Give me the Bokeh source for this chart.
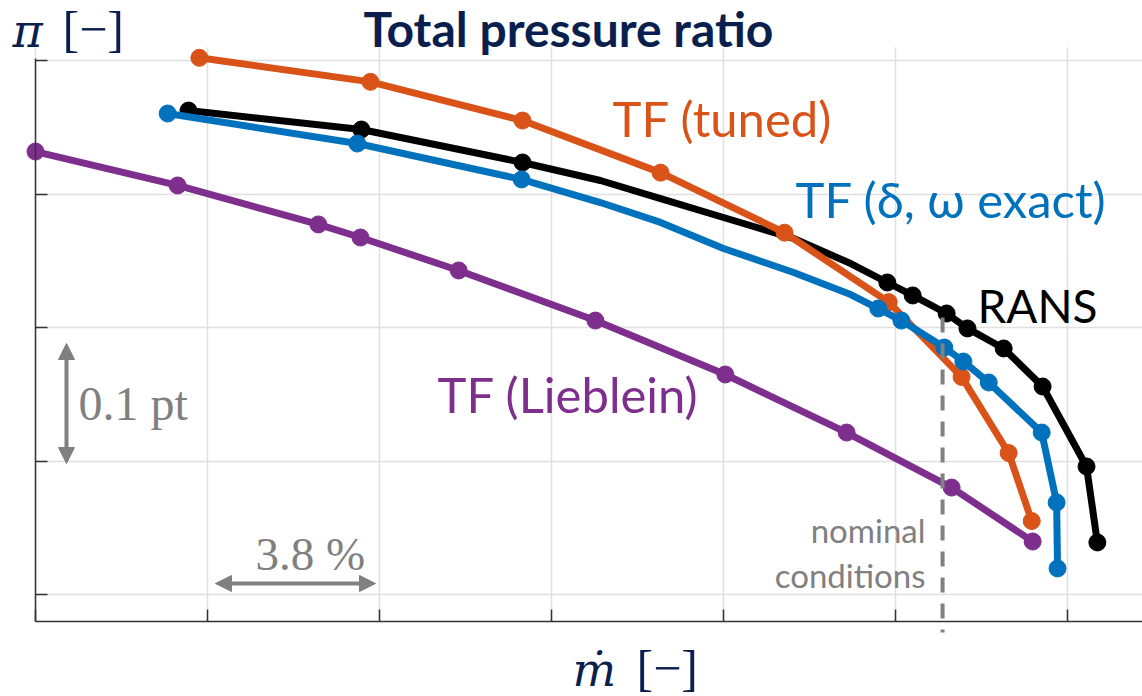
from bokeh.plotting import figure
from bokeh.models import Range1d, FixedTicker, Label, Arrow, NormalHead
from bokeh.embed import file_html
from bokeh.resources import INLINE

# ---------------- data (Δṁ in %, Δπ in pt) ----------------
tuned_m = [3.62, 7.40, 10.76, 13.81, 16.55, 18.85, 20.46, 21.50, 22.01]
tuned_pi = [0.402, 0.384, 0.355, 0.316, 0.271, 0.219, 0.163, 0.106, 0.055]

rans_curve_m = [3.38, 7.20, 10.76, 12.48, 13.81, 15.20, 16.75, 18.01, 18.82, 19.38,
                20.13, 20.59, 21.39, 22.25, 23.22, 23.46]
rans_curve_pi = [0.3625, 0.3483, 0.3236, 0.3101, 0.2966, 0.2824, 0.2667, 0.2479, 0.2337,
                 0.2240, 0.2105, 0.1993, 0.1843, 0.1558, 0.0959, 0.0390]
rans_pts_m = [3.38, 7.20, 10.76, 18.82, 19.38, 20.13, 20.59, 21.39, 22.25, 23.22, 23.46]
rans_pts_pi = [0.3625, 0.3483, 0.3236, 0.2337, 0.2240, 0.2105, 0.1993, 0.1843, 0.1558,
               0.0959, 0.0390]

exact_curve_m = [2.92, 7.11, 10.74, 12.48, 13.81, 15.20, 16.75, 18.01, 18.62, 19.13,
                 20.08, 20.50, 21.06, 22.23, 22.56, 22.58]
exact_curve_pi = [0.3603, 0.3378, 0.3109, 0.2936, 0.2787, 0.2592, 0.2412, 0.2247, 0.2142,
                  0.2052, 0.1850, 0.1745, 0.1588, 0.1213, 0.0689, 0.0195]
exact_pts_m = [2.92, 7.11, 10.74, 18.62, 19.13, 20.08, 20.50, 21.06, 22.23, 22.56, 22.58]
exact_pts_pi = [0.3603, 0.3378, 0.3109, 0.2142, 0.2052, 0.1850, 0.1745, 0.1588, 0.1213,
                0.0689, 0.0195]

lieb_m = [0.00, 3.14, 6.25, 7.18, 9.35, 12.37, 15.24, 17.92, 20.24, 22.03]
lieb_pi = [0.3318, 0.3064, 0.2772, 0.2674, 0.2427, 0.2052, 0.1648, 0.1213, 0.0801, 0.0397]

nominal_m = 20.04
x_ticks = [0, 3.8, 7.6, 11.4, 15.2, 19.0, 22.8]
y_ticks = [0.0, 0.1, 0.2, 0.3, 0.4]

# ---------------- layout helpers (page pixels -> plot units) ----------------
W, H = 1142, 696
XPX = 172 / 3.8      # px per % of mass flow
YPX = 1335.0         # px per unit of pressure ratio
def X(px):
    return (px - 35) / XPX
def Y(py):
    return (594 - py) / YPX

ORANGE = "#D95319"
BLUE = "#0072BD"
PURPLE = "#7E2F8E"
BLACK = "#000000"
NAVY = "#0B1F4F"
GRAY = "#808080"
AXC = "#333333"

p = figure(width=W, height=H, output_backend="svg", toolbar_location=None, title=None,
           x_range=Range1d(X(0), X(W)), y_range=Range1d(Y(H), Y(0)),
           min_border=0, min_border_left=0, min_border_right=0,
           min_border_top=0, min_border_bottom=0)
p.outline_line_color = None
p.background_fill_color = "white"
p.border_fill_color = "white"

x_lo, x_hi = 0.0, X(W)
y_lo, y_hi = Y(621), Y(47)

p.xaxis.fixed_location = y_lo
p.yaxis.fixed_location = x_lo
p.xaxis.bounds = (x_lo, x_hi)
p.yaxis.bounds = (y_lo, Y(58))
for ax, ticks in ((p.xaxis[0], x_ticks), (p.yaxis[0], y_ticks)):
    ax.ticker = FixedTicker(ticks=ticks)
    ax.major_label_overrides = {t: "" for t in ticks}
    ax.major_tick_in = 12
    ax.major_tick_out = 0
    ax.minor_tick_line_color = None
    ax.axis_line_color = AXC
    ax.axis_line_width = 1.5
    ax.major_tick_line_color = AXC
    ax.major_tick_line_width = 1.5

GRID = "#e0e0e0"
p.xgrid.ticker = FixedTicker(ticks=x_ticks)
p.ygrid.ticker = FixedTicker(ticks=y_ticks)
try:
    p.xgrid.cross_bounds = (y_lo, y_hi)
    p.ygrid.cross_bounds = (x_lo, x_hi)
    for g in (p.xgrid, p.ygrid):
        g.grid_line_color = GRID
        g.grid_line_width = 1.5
except AttributeError:
    p.xgrid.visible = False
    p.ygrid.visible = False
    p.segment(x0=x_ticks, y0=[y_lo] * len(x_ticks), x1=x_ticks, y1=[y_hi] * len(x_ticks),
              line_color=GRID, line_width=1.5)
    p.segment(x0=[x_lo] * len(y_ticks), y0=y_ticks, x1=[x_hi] * len(y_ticks), y1=y_ticks,
              line_color=GRID, line_width=1.5)

LW = 7
MS = 17
p.line(lieb_m, lieb_pi, line_color=PURPLE, line_width=LW)
p.scatter(lieb_m, lieb_pi, marker="circle", size=MS, fill_color=PURPLE, line_color=PURPLE)

p.line(rans_curve_m, rans_curve_pi, line_color=BLACK, line_width=LW, line_join="round")
p.scatter(rans_pts_m, rans_pts_pi, marker="circle", size=MS, fill_color=BLACK, line_color=BLACK)

p.line(tuned_m, tuned_pi, line_color=ORANGE, line_width=LW)
p.scatter(tuned_m, tuned_pi, marker="circle", size=MS, fill_color=ORANGE, line_color=ORANGE)

p.line(exact_curve_m, exact_curve_pi, line_color=BLUE, line_width=LW, line_join="round")
p.scatter(exact_pts_m, exact_pts_pi, marker="circle", size=MS, fill_color=BLUE, line_color=BLUE)

p.segment(x0=[nominal_m], y0=[Y(317)], x1=[nominal_m], y1=[Y(632)],
          line_color=GRAY, line_width=4, line_dash="15 11")

SANS = "Lato"
SERIF = "Liberation Serif"
MATH = "DejaVu Serif"

def lab(xp, basep, text, color, fs, font=SANS, style="normal", align="left"):
    # xp / basep: wanted left (or right) edge and baseline, page px
    yb = basep - 0.39 * fs
    p.add_layout(Label(x=X(xp), y=Y(yb), text=text, text_color=color,
                       text_font_size=f"{fs}px", text_font=font,
                       text_font_style=style, text_align=align,
                       text_baseline="alphabetic"))

lab(612, 137, "TF (tuned)", ORANGE, 49)
lab(795, 218, "TF (δ, ω exact)", BLUE, 49)
lab(977, 323, "RANS", BLACK, 46)
lab(437, 413, "TF (Lieblein)", PURPLE, 49)
lab(925, 542, "nominal", GRAY, 33, align="right")
lab(925, 587, "conditions", GRAY, 33, align="right")
lab(78, 422, "0.1 pt", GRAY, 48, font=SERIF)
lab(255, 572, "3.8 %", GRAY, 47, font=SERIF)

lab(363, 47, "Total pressure ratio", NAVY, 48, style="bold")
lab(12, 48, "π", NAVY, 46, font=MATH, style="italic")
lab(62, 48, "[−]", NAVY, 50, font=SERIF)
lab(572, 687, "ṁ", NAVY, 46, font=MATH, style="italic")
lab(636, 687, "[−]", NAVY, 50, font=SERIF)

def head():
    return NormalHead(size=16, fill_color=GRAY, line_color=GRAY)

p.add_layout(Arrow(start=head(), end=head(), x_start=X(66), y_start=Y(463),
                   x_end=X(66), y_end=Y(343), line_color=GRAY, line_width=4))
p.add_layout(Arrow(start=head(), end=head(), x_start=X(215), y_start=Y(583),
                   x_end=X(375), y_end=Y(583), line_color=GRAY, line_width=4))

open("out.html", "w").write(file_html(p, INLINE))
